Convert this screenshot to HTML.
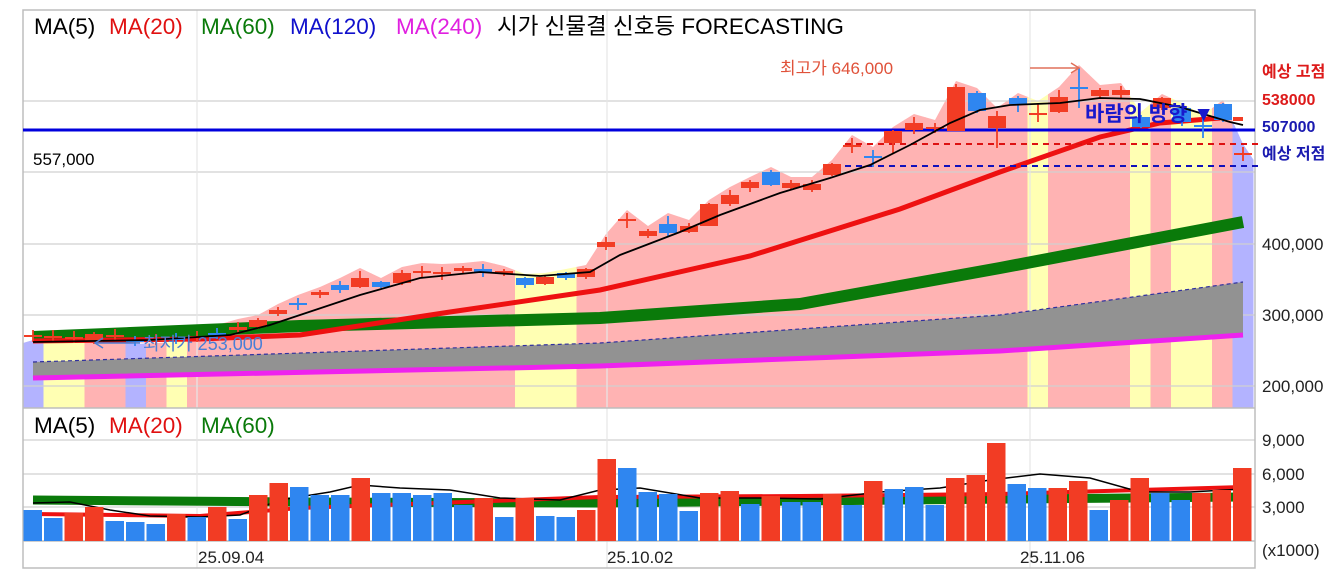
<!DOCTYPE html>
<html><head><meta charset="utf-8">
<style>
html,body{margin:0;padding:0;background:#fff;width:1339px;height:573px;overflow:hidden}
svg{display:block;font-family:"Liberation Sans","Noto Sans CJK KR",sans-serif}
</style></head><body>
<svg id="s" width="1339" height="573" viewBox="0 0 1339 573" xmlns="http://www.w3.org/2000/svg">
<defs><clipPath id="env"><polygon id="envp" points=""/></clipPath></defs>
<g id="bands" clip-path="url(#env)"></g>
<g id="grid" stroke="#d0d0d0" stroke-width="1.2">
<line x1="23" y1="101" x2="1255" y2="101"/><line x1="23" y1="172" x2="1255" y2="172"/>
<line x1="23" y1="244" x2="1255" y2="244"/><line x1="23" y1="315" x2="1255" y2="315"/>
<line x1="23" y1="386" x2="1255" y2="386"/>
<line x1="23" y1="440" x2="1255" y2="440"/><line x1="23" y1="474" x2="1255" y2="474"/><line x1="23" y1="507" x2="1255" y2="507"/>
<line x1="197" y1="10" x2="197" y2="568" stroke="#e6e6e6"/><line x1="607" y1="10" x2="607" y2="568" stroke="#e6e6e6"/><line x1="1030" y1="10" x2="1030" y2="568" stroke="#e6e6e6"/>
</g>
<g stroke="#bdbdbd" stroke-width="1.5" fill="none">
<rect x="23" y="10" width="1232" height="558"/>
<line x1="23" y1="408" x2="1255" y2="408"/><line x1="23" y1="541" x2="1255" y2="541"/>
</g>
<polygon points="33,362 600,343 1000,315 1243,282 1243,335 1000,351 600,366 33,378" fill="#929292"/>
<polyline points="33,362 600,343 1000,315 1243,282" fill="none" stroke="#3030a0" stroke-width="1.2" stroke-dasharray="4,3"/>
<polyline points="33,378 600,366 1000,351 1243,335" fill="none" stroke="#ee22ee" stroke-width="5"/>
<polyline points="33,337 300,326 600,318 800,304 1000,268 1243,222" fill="none" stroke="#0a7a0a" stroke-width="12"/>
<polyline points="33,341 200,339 300,335 450,312 600,290 750,256 900,209 1000,172 1100,137 1160,123 1220,118" fill="none" stroke="#ee1111" stroke-width="5"/>
<line x1="23" y1="130" x2="1255" y2="130" stroke="#0000dd" stroke-width="3"/>
<line x1="845" y1="144" x2="1262" y2="144" stroke="#dd1111" stroke-width="2" stroke-dasharray="6,5"/>
<line x1="845" y1="166" x2="1262" y2="166" stroke="#1111bb" stroke-width="2" stroke-dasharray="6,5"/>
<g id="candles"></g>
<polyline points="33,342 150,340 230,335 270,325 360,295 420,278 480,272 540,276 590,272 620,255 680,232 720,215 780,193 830,178 870,165 910,145 950,123 980,110 1010,105 1060,103 1100,98 1140,99 1180,107 1230,122 1243,125" fill="none" stroke="#000" stroke-width="1.8"/>
<polyline points="33,500 300,502 600,503 900,500 1243,497" fill="none" stroke="#0a7a0a" stroke-width="9"/>
<polyline points="33,514 200,516 300,508 600,497 800,496 1000,494 1243,487" fill="none" stroke="#ee1111" stroke-width="4"/>
<polyline points="33,503 70,502 110,510 150,516 200,517 240,515 280,500 330,492 360,485 400,488 450,490 500,498 560,500 600,490 640,488 700,498 760,498 820,499 880,492 940,488 990,480 1040,474 1090,478 1140,492 1190,492 1243,489" fill="none" stroke="#000" stroke-width="1.5"/>
<g id="vol"></g>
<text y="34" font-size="22.5"><tspan x="34" fill="#000">MA(5)</tspan><tspan x="109" fill="#e01010">MA(20)</tspan><tspan x="201" fill="#0a7a0a">MA(60)</tspan><tspan x="290" fill="#1010cc">MA(120)</tspan><tspan x="396" fill="#e020e0">MA(240)</tspan><tspan x="497" fill="#000">시가 신물결 신호등 FORECASTING</tspan></text>
<text y="433" font-size="22.5"><tspan x="34" fill="#000">MA(5)</tspan><tspan x="109" fill="#e01010">MA(20)</tspan><tspan x="201" fill="#0a7a0a">MA(60)</tspan></text>
<text x="780" y="74" font-size="17" fill="#e0523a">최고가 646,000</text>
<line x1="1030" y1="68" x2="1079" y2="68" stroke="#e0705a" stroke-width="1.5"/><polyline points="1071,63 1079,68 1071,73" fill="none" stroke="#e0705a" stroke-width="1.5"/>
<text x="143" y="350" font-size="18" fill="#4a7fd6">최저가 253,000</text>
<line x1="95" y1="343" x2="140" y2="343" stroke="#4a7fd6" stroke-width="1.5"/><polyline points="103,338 95,343 103,348" fill="none" stroke="#4a7fd6" stroke-width="1.5"/>
<text x="33" y="165" font-size="17" fill="#000">557,000</text>
<text x="1085" y="121" font-size="21" font-weight="bold" fill="#1818cc">바람의 방향 ▼</text>
<g font-size="16" font-weight="bold">
<text x="1262" y="77" fill="#dd1a1a">예상 고점</text>
<text x="1262" y="105" fill="#dd1a1a">538000</text>
<text x="1262" y="132" fill="#1a1ab0">507000</text>
<text x="1262" y="159" fill="#1a1ab0">예상 저점</text>
</g>
<g font-size="17" fill="#222">
<text x="1262" y="250">400,000</text><text x="1262" y="321">300,000</text><text x="1262" y="392">200,000</text>
<text x="1262" y="446">9,000</text><text x="1262" y="480">6,000</text><text x="1262" y="513">3,000</text>
<text x="1262" y="556">(x1000)</text>
<text x="198" y="563">25.09.04</text><text x="607" y="563">25.10.02</text><text x="1020" y="563">25.11.06</text>
</g>
</svg>
<script>
var NS="http://www.w3.org/2000/svg";
function el(t,a,p){var e=document.createElementNS(NS,t);for(var k in a)e.setAttribute(k,a[k]);document.getElementById(p).appendChild(e);return e;}
var C=[[33,335,337,330,342,'r'],[53,336,338,330,342,'r'],[74,337,339,331,343,'r'],[94,334,342,332,344,'r'],[115,335,337,329,341,'r'],[135,340,342,336,346,'b'],[156,339,341,334,345,'r'],[176,338,340,333,344,'b'],[197,336,338,331,342,'r'],[217,333,335,328,339,'b'],[238,327,330,322,333,'r'],[258,320,327,318,329,'r'],[278,310,314,307,316,'r'],[298,303,305,298,310,'b'],[320,292,295,290,298,'r'],[340,285,290,281,293,'b'],[360,278,287,271,288,'r'],[381,282,287,281,288,'b'],[402,273,283,270,285,'r'],[422,271,273,266,278,'r'],[442,272,274,267,280,'r'],[463,268,271,266,273,'r'],[483,269,272,264,277,'b'],[504,271,274,269,276,'r'],[525,278,285,277,288,'b'],[545,277,284,276,285,'r'],[566,273,278,272,280,'b'],[586,269,277,268,279,'r'],[606,242,247,237,250,'r'],[627,219,221,213,228,'r'],[648,231,236,229,238,'r'],[668,224,233,216,236,'b'],[689,226,232,223,233,'r'],[709,204,226,203,226,'r'],[730,195,204,190,206,'r'],[750,182,188,180,192,'r'],[771,172,185,170,186,'b'],[791,183,188,180,190,'r'],[812,184,190,180,192,'r'],[832,164,175,163,176,'r'],[852,145,147,138,153,'r'],[873,156,158,150,167,'b'],[893,131,143,130,153,'r'],[914,123,130,117,134,'r'],[935,127,129,123,133,'r'],[956,87,131,84,131,'r'],[977,93,111,91,113,'b'],[997,116,128,111,148,'r'],[1018,98,104,96,112,'b'],[1038,113,115,104,122,'r'],[1059,97,112,90,113,'r'],[1079,87,89,68,108,'b'],[1100,90,96,88,98,'r'],[1121,90,95,86,98,'r'],[1141,117,127,115,128,'b'],[1162,98,108,97,110,'r'],[1182,108,122,106,126,'b'],[1203,125,127,118,138,'b'],[1223,104,120,103,122,'b'],[1243,153,155,147,161,'r']];
var pts=["23,408","23,343"];
C.forEach(function(c,i){pts.push(c[0]+","+(i<=8?c[4]-2:c[3]-3));});
pts.push("1255,162","1255,408");
document.getElementById("envp").setAttribute("points",pts.join(" "));
var band=['B','Y','Y','P','P','B','P','Y'];
for(var i=0;i<60;i++){var t=band[i]||'P';if(i>=24&&i<=26)t='Y';if(i==49||i==54||i==56||i==57)t='Y';if(i==59)t='B';
var col=t=='P'?'#ffb3b3':t=='Y'?'#ffffb3':'#b3b3ff';
el('rect',{x:23+20.5*i,y:10,width:21,height:398,fill:col},'bands');}
C.forEach(function(c){var col=c[5]=='r'?'#f23c24':'#2f86f0';
el('line',{x1:c[0],y1:c[3],x2:c[0],y2:c[4],stroke:col,'stroke-width':1.8},'candles');
el('rect',{x:c[0]-9,y:c[1],width:18,height:Math.max(2,c[2]-c[1]),fill:col},'candles');});
el('rect',{x:1233,y:117,width:10,height:4,fill:'#f23c24'},'candles');
var V=[[510,'b'],[518,'b'],[513,'r'],[507,'r'],[521,'b'],[522,'b'],[524,'b'],[514,'r'],[517,'b'],[507,'r'],[519,'b'],[495,'r'],[483,'r'],[487,'b'],[495,'b'],[495,'b'],[478,'r'],[493,'b'],[493,'b'],[495,'b'],[493,'b'],[505,'b'],[498,'r'],[517,'b'],[498,'r'],[516,'b'],[517,'b'],[510,'r'],[459,'r'],[468,'b'],[492,'b'],[494,'b'],[511,'b'],[493,'r'],[491,'r'],[504,'b'],[496,'r'],[502,'b'],[502,'b'],[494,'r'],[505,'b'],[481,'r'],[489,'b'],[487,'b'],[505,'b'],[478,'r'],[475,'r'],[443,'r'],[484,'b'],[488,'b'],[488,'r'],[481,'r'],[510,'b'],[500,'r'],[478,'r'],[493,'b'],[500,'b'],[493,'r'],[490,'r'],[468,'r']];
V.forEach(function(v,i){el('rect',{x:23.5+20.5*i,y:v[0],width:18.5,height:541-v[0],fill:v[1]=='r'?'#f23c24':'#2f86f0'},'vol');});
</script>
</body></html>
